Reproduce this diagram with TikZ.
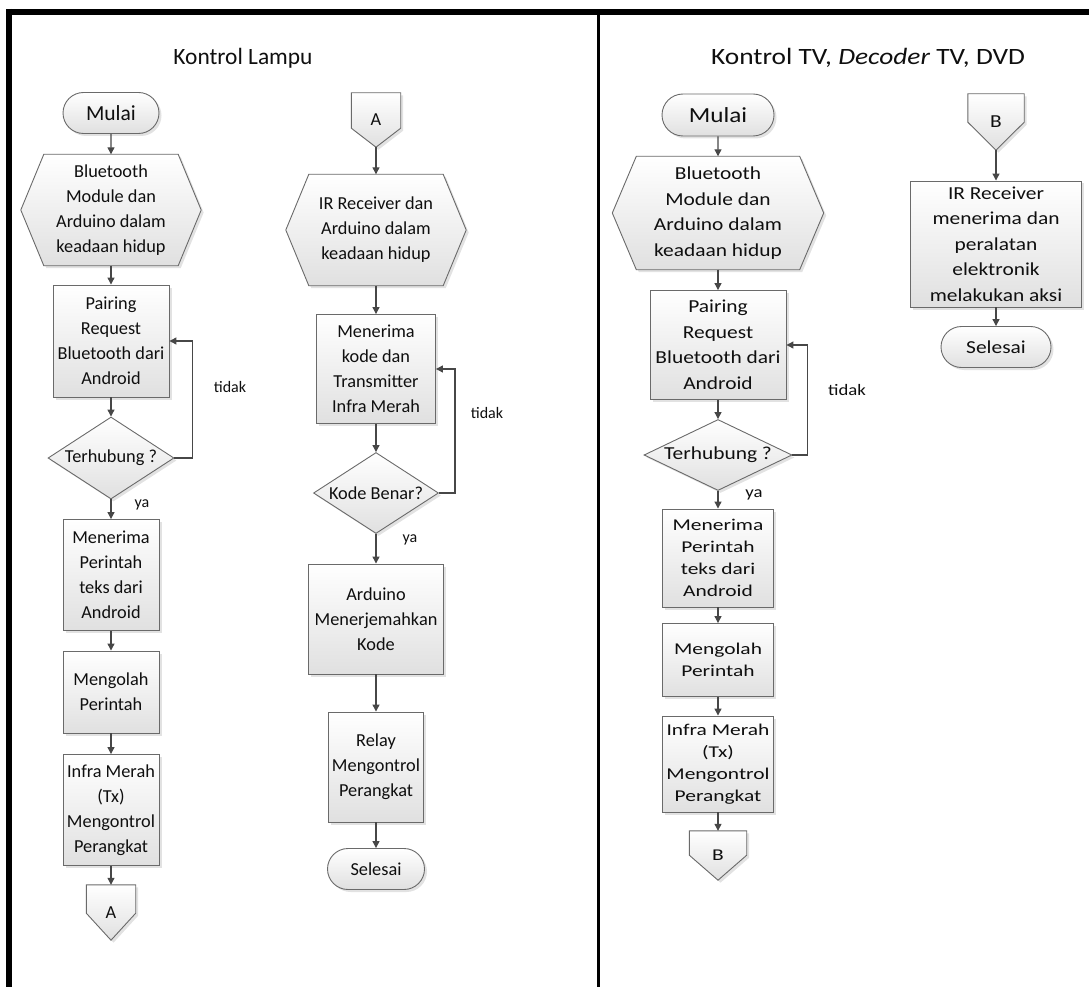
\documentclass[tikz,border=0pt]{standalone}
\usepackage{fontspec}
\setmainfont{Carlito}
\newfontfamily\wideface[FakeStretch=1.17]{Carlito}
\newfontfamily\widerface[FakeStretch=1.3]{Carlito}
\usetikzlibrary{arrows.meta,positioning,shapes.geometric,shapes.misc,shadows,backgrounds}
\definecolor{ink}{HTML}{0F0F0F}
\definecolor{boxline}{HTML}{6A6A6A}
\definecolor{boxfill}{HTML}{E0E0E0}
\definecolor{shadowgray}{HTML}{C6C6C6}
\definecolor{flowline}{HTML}{474747}
\tikzset{
  leftfont/.style={font=\fontsize{18.3}{25}\selectfont},
  rightfont/.style={font=\wideface\fontsize{18.3}{25.5}\selectfont},
  rightlow/.style={font=\widerface\fontsize{16.5}{22}\selectfont},
  boxbase/.style={
    draw=boxline, line width=0.9pt, top color=white, bottom color=boxfill,
    drop shadow={shadow xshift=2.5pt, shadow yshift=-2.5pt, fill=shadowgray},
    text=ink, align=center, inner sep=0pt
  },
  procbox/.style={boxbase, rectangle},
  termbox/.style={boxbase, rounded rectangle},
  decbox/.style={boxbase, diamond, aspect=1.5},
  holder/.style={rectangle, inner sep=0pt, align=center, text=ink},
  shapefill/.style={
    draw=boxline, line width=0.9pt, top color=white, bottom color=boxfill,
    drop shadow={shadow xshift=2.5pt, shadow yshift=-2.5pt, fill=shadowgray}
  },
  flow/.style={draw=flowline, line width=1.2pt, -{Triangle[length=7pt,width=7pt]}},
  tag/.style={text=ink, inner sep=0pt},
  frameline/.style={draw=black, line width=6pt}
}

\begin{document}
\begin{tikzpicture}[x=1pt,y=-1pt]
  \useasboundingbox (0,0) rectangle (1089,987);

  % frame
  \draw[frameline] (6,12) -- (1089,12);
  \draw[frameline] (9,9) -- (9,987);
  \draw[draw=black, line width=3pt] (598,12) -- (598,987);

  % titles
  \node[tag, font=\fontsize{23.4}{28}\selectfont] (titleL) at (243,58) {Kontrol Lampu};
  \node[tag, font=\wideface\fontsize{23.4}{28}\selectfont] (titleR) at (868,58)
    {Kontrol TV, \textit{Decoder} TV, DVD};

  % Kontrol Lampu, first column
  \node[termbox, font=\fontsize{21.5}{25}\selectfont, minimum width=96pt, minimum height=41pt]
    (startA) at (111,113) {Mulai};
  \node[holder, leftfont, minimum width=180pt, minimum height=111pt] (hexA) at (111,210)
    {Bluetooth\\Module dan\\Arduino dalam\\keadaan hidup};
  \node[procbox, leftfont, minimum width=116pt, minimum height=112pt] (pairA) at (111,341)
    {Pairing\\Request\\Bluetooth dari\\Android};
  \node[decbox, leftfont, minimum width=126pt, minimum height=82pt] (decA) at (111,458) {Terhubung ?};
  \node[procbox, leftfont, minimum width=96pt, minimum height=111pt] (recvA) at (111,575)
    {Menerima\\Perintah\\teks dari\\Android};
  \node[procbox, leftfont, minimum width=96pt, minimum height=82pt] (procA) at (111,692)
    {Mengolah\\Perintah};
  \node[procbox, leftfont, minimum width=96pt, minimum height=111pt] (irA) at (111,810)
    {Infra Merah\\(Tx)\\Mengontrol\\Perangkat};
  \node[holder, leftfont, minimum width=49pt, minimum height=55pt] (outA) at (111,912.5) {A};

  % Kontrol Lampu, second column
  \node[holder, leftfont, minimum width=49pt, minimum height=54pt] (inA) at (376,120) {A};
  \node[holder, leftfont, minimum width=180pt, minimum height=111pt] (hexB) at (376,230)
    {IR Receiver dan\\Arduino dalam\\keadaan hidup};
  \node[procbox, leftfont, minimum width=119pt, minimum height=109pt] (codeB) at (376,369)
    {Menerima\\kode dan\\Transmitter\\Infra Merah};
  \node[decbox, leftfont, minimum width=125pt, minimum height=81pt] (decB) at (376,493) {Kode Benar?};
  \node[procbox, leftfont, minimum width=135pt, minimum height=110pt] (transB) at (376,619)
    {Arduino\\Menerjemahkan\\Kode};
  \node[procbox, leftfont, minimum width=95pt, minimum height=110pt] (relayB) at (376,767)
    {Relay\\Mengontrol\\Perangkat};
  \node[termbox, leftfont, minimum width=97pt, minimum height=41pt] (endB) at (376,869) {Selesai};

  % Kontrol TV, first column
  \node[termbox, font=\wideface\fontsize{21.5}{25}\selectfont, minimum width=112pt, minimum height=42pt]
    (startC) at (718,115) {Mulai};
  \node[holder, rightfont, minimum width=211pt, minimum height=113pt] (hexC) at (718,213)
    {Bluetooth\\Module dan\\Arduino dalam\\keadaan hidup};
  \node[procbox, rightfont, minimum width=136pt, minimum height=109pt] (pairC) at (718,345)
    {Pairing\\Request\\Bluetooth dari\\Android};
  \node[decbox, rightfont, aspect=2.1, inner xsep=-6pt, minimum width=148pt, minimum height=71pt]
    (decC) at (718,455) {Terhubung ?};
  \node[procbox, rightlow, minimum width=111pt, minimum height=98pt] (recvC) at (718,558)
    {Menerima\\Perintah\\teks dari\\Android};
  \node[procbox, rightlow, minimum width=111pt, minimum height=73pt] (procC) at (718,660)
    {Mengolah\\Perintah};
  \node[procbox, rightlow, minimum width=111pt, minimum height=96pt] (irC) at (718,764)
    {Infra Merah\\(Tx)\\Mengontrol\\Perangkat};
  \node[holder, rightlow, minimum width=57pt, minimum height=49pt] (outB) at (718,855.5) {B};

  % Kontrol TV, second column
  \node[holder, rightfont, minimum width=56pt, minimum height=56pt] (inB) at (996,122) {B};
  \node[procbox, rightfont, minimum width=171pt, minimum height=126pt] (actD) at (996,244)
    {IR Receiver\\menerima dan\\peralatan\\elektronik\\melakukan aksi};
  \node[termbox, rightfont, minimum width=110pt, minimum height=41pt] (endD) at (996,347) {Selesai};

  % hexagons and off-page connectors
  \begin{scope}[on background layer]
    \foreach \n/\d in {hexA/23,hexB/23,hexC/24}
      \path[shapefill] (\n.west) -- ([xshift=\d pt]\n.north west) -- ([xshift=-\d pt]\n.north east)
        -- (\n.east) -- ([xshift=-\d pt]\n.south east) -- ([xshift=\d pt]\n.south west) -- cycle;
    \foreach \n/\t in {outA/27,inA/19,outB/25,inB/28}
      \path[shapefill] (\n.north west) -- (\n.north east) -- ([yshift=\t pt]\n.south east)
        -- (\n.south) -- ([yshift=\t pt]\n.south west) -- cycle;
  \end{scope}

  % connectors
  \draw[flow] (startA) -- (hexA);
  \draw[flow] (hexA) -- (pairA);
  \draw[flow] (pairA) -- (decA);
  \draw[flow] (decA) -- (recvA);
  \draw[flow] (recvA) -- (procA);
  \draw[flow] (procA) -- (irA);
  \draw[flow] (irA) -- (outA);
  \draw[flow] (decA.east) -- ++(18,0) |- (pairA.east);

  \draw[flow] (inA.south) -- (hexB);
  \draw[flow] (hexB) -- (codeB);
  \draw[flow] (codeB) -- (decB);
  \draw[flow] (decB) -- (transB);
  \draw[flow] (transB) -- (relayB);
  \draw[flow] (relayB) -- (endB);
  \draw[flow] (decB.east) -- ++(16,0) |- (codeB.east);

  \draw[flow] (startC) -- (hexC);
  \draw[flow] (hexC) -- (pairC);
  \draw[flow] (pairC) -- (decC);
  \draw[flow] (decC) -- (recvC);
  \draw[flow] (recvC) -- (procC);
  \draw[flow] (procC) -- (irC);
  \draw[flow] (irC) -- (outB);
  \draw[flow] (decC.east) -- ++(15,0) |- (pairC.east);

  \draw[flow] (inB.south) -- (actD);
  \draw[flow] (actD) -- (endD);

  % branch labels
  \node[tag, font=\fontsize{16}{19}\selectfont] (noA) at (230,387) {tidak};
  \node[tag, font=\fontsize{16}{19}\selectfont] (yesA) at (142,505) {ya};
  \node[tag, font=\fontsize{16}{19}\selectfont] (noB) at (487,413) {tidak};
  \node[tag, font=\fontsize{16}{19}\selectfont] (yesB) at (410,540) {ya};
  \node[tag, font=\wideface\fontsize{16}{19}\selectfont] (noC) at (847,390) {tidak};
  \node[tag, font=\wideface\fontsize{16}{19}\selectfont] (yesC) at (754,495) {ya};
\end{tikzpicture}
\end{document}
